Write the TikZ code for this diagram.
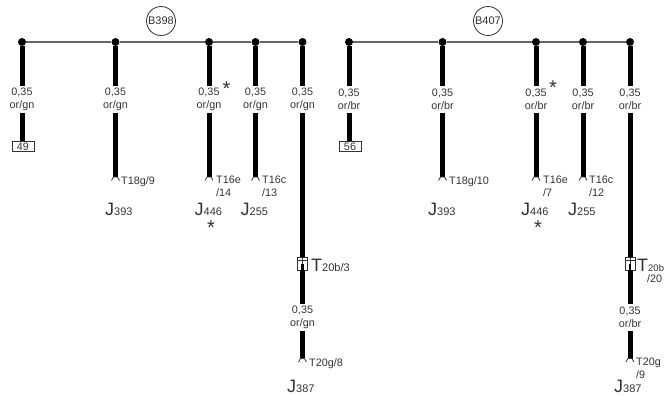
\documentclass[tikz,border=0pt]{standalone}
\usepackage{fontspec}
\setmainfont{Liberation Sans}
\definecolor{ink}{gray}{0.2}
\newcommand{\sm}{\fontsize{10.8}{12.7}\selectfont}
\newcommand{\bg}{\fontsize{18}{18}\selectfont}
\newcommand{\bgJ}[1]{{\bg J}{\fontsize{11}{12}\selectfont #1}}
\newcommand{\bgT}[1]{{\bg T}{\fontsize{11}{12}\selectfont #1}}
\tikzset{
  wire/.style={line width=5pt,black},
  bus/.style={line width=1.3pt,black!60},
  dotn/.style={circle,fill=black,inner sep=0pt,minimum size=8pt},
  gauge/.style={font=\sm,text=ink,align=center,inner sep=0pt,minimum height=26pt,minimum width=26pt},
  tag/.style={font=\sm,text=ink,anchor=west,inner sep=0pt,align=left},
  big/.style={text=ink,anchor=west,inner sep=0pt},
  bubble/.style={circle,draw=ink,line width=.8pt,font=\fontsize{11}{12}\selectfont,text=ink,inner sep=0pt,minimum size=29pt},
  pinbox/.style={draw=ink,line width=.8pt,fill=white,font=\sm,text=ink,inner sep=0pt,minimum width=22pt,minimum height=10.5pt},
  star/.style={font=\fontsize{20}{20}\selectfont,text=ink,inner sep=0pt},
  plug/.style={draw=ink,fill=white,line width=.8pt,inner sep=0pt,minimum width=10pt,minimum height=13pt},
  caret/.style={line width=.8pt,ink}
}
\begin{document}
\begin{tikzpicture}[x=1pt,y=-1pt]
\useasboundingbox (0,0) rectangle (664,396);
% ---- left group
\node[bubble] (b1) at (161,21) {B398};
\node[dotn] (a1) at (22,42) {};
\node[dotn] (a2) at (115.5,42) {};
\node[dotn] (a3) at (209,42) {};
\node[dotn] (a4) at (255.5,42) {};
\node[dotn] (a5) at (302.5,42) {};
\draw[bus] (a1) -- (a2) -- (a3) -- (a4) -- (a5);
\node[gauge] (g1) at (22,99.5) {0,35\\or/gn};
\node[gauge] (g2) at (115.5,99.5) {0,35\\or/gn};
\node[gauge] (g3) at (209,99.5) {0,35\\or/gn};
\node[gauge] (g4) at (255.5,99.5) {0,35\\or/gn};
\node[gauge] (g5) at (302.5,99.5) {0,35\\or/gn};
\node[gauge] (g6) at (302.5,317.5) {0,35\\or/gn};
\node[pinbox] (p1) at (23,146.5) {49};
\coordinate (e2) at (115.5,177);
\coordinate (e3) at (209,177);
\coordinate (e4) at (255.5,177);
\coordinate (e6) at (302.5,358.5);
\node[plug] (c1) at (302.5,263.5) {};
\foreach \s/\t in {a1/g1,a2/g2,a3/g3,a4/g4,a5/g5}
  \draw[wire] (\s) -- (\t.north);
\draw[wire] (g1.south) -- (g1.south |- p1.north);
\foreach \s/\t in {g2/e2,g3/e3,g4/e4}
  \draw[wire] (\s.south) -- (\t);
\draw[wire] (g5.south) -- (c1.north);
\draw[wire] (c1.south) -- (g6.north);
\draw[wire] (g6.south) -- (e6);
\foreach \e in {e2,e3,e4,e6}
  \draw[caret] (\e) ++(-4,3.5) -- ++(2,-3.5) -- ++(4,0) -- ++(2,3.5);
\draw[ink,line width=.7pt] (c1.west) ++(0,-3) -- ++(10,0) (c1.north) -- (c1.south);
\draw[line width=2.4pt] (c1.center) -- (c1.south);
\node[star] (s1) at (226.5,89) {*};
\node[star] (s2) at (211,228) {*};
\node[tag] (t1) at (121,181.5) {T18g/9};
\node[tag,text width=28pt] (t2) at (216,186) {T16e\\/14};
\node[tag,text width=28pt] (t3) at (262,186) {T16c\\/13};
\node[tag] (t4) at (309,363.5) {T20g/8};
\node[big] (j1) at (105,209) {\bgJ{393}};
\node[big] (j2) at (194.5,209) {\bgJ{446}};
\node[big] (j3) at (240.5,209) {\bgJ{255}};
\node[big] (j4) at (287,386) {\bgJ{387}};
\node[big] (k1) at (311,265) {\bgT{20b/3}};
% ---- right group
\node[bubble] (b2) at (488,21) {B407};
\node[dotn] (d1) at (349,42) {};
\node[dotn] (d2) at (442.5,42) {};
\node[dotn] (d3) at (536,42) {};
\node[dotn] (d4) at (583,42) {};
\node[dotn] (d5) at (630,42) {};
\draw[bus] (d1) -- (d2) -- (d3) -- (d4) -- (d5);
\node[gauge] (h1) at (349,99.5) {0,35\\or/br};
\node[gauge] (h2) at (442.5,99.5) {0,35\\or/br};
\node[gauge] (h3) at (536,99.5) {0,35\\or/br};
\node[gauge] (h4) at (583,99.5) {0,35\\or/br};
\node[gauge] (h5) at (630,99.5) {0,35\\or/br};
\node[gauge] (h6) at (630,317.5) {0,35\\or/br};
\node[pinbox] (p2) at (350,146.5) {56};
\coordinate (f2) at (442.5,177);
\coordinate (f3) at (536,177);
\coordinate (f4) at (583,177);
\coordinate (f6) at (630,358.5);
\node[plug] (c2) at (630,263.5) {};
\foreach \s/\t in {d1/h1,d2/h2,d3/h3,d4/h4,d5/h5}
  \draw[wire] (\s) -- (\t.north);
\draw[wire] (h1.south) -- (h1.south |- p2.north);
\foreach \s/\t in {h2/f2,h3/f3,h4/f4}
  \draw[wire] (\s.south) -- (\t);
\draw[wire] (h5.south) -- (c2.north);
\draw[wire] (c2.south) -- (h6.north);
\draw[wire] (h6.south) -- (f6);
\foreach \e in {f2,f3,f4,f6}
  \draw[caret] (\e) ++(-4,3.5) -- ++(2,-3.5) -- ++(4,0) -- ++(2,3.5);
\draw[ink,line width=.7pt] (c2.west) ++(0,-3) -- ++(10,0) (c2.north) -- (c2.south);
\draw[line width=2.4pt] (c2.center) -- (c2.south);
\node[star] (s3) at (553,88) {*};
\node[star] (s4) at (538,228) {*};
\node[tag] (u1) at (449,181.5) {T18g/10};
\node[tag,text width=28pt] (u2) at (543,186) {T16e\\/7};
\node[tag,text width=28pt] (u3) at (589,186) {T16c\\/12};
\node[tag,text width=28pt] (u4) at (636,368.5) {T20g\\/9};
\node[big] (m1) at (428,209) {\bgJ{393}};
\node[big] (m2) at (521,209) {\bgJ{446}};
\node[big] (m3) at (568,209) {\bgJ{255}};
\node[big] (m4) at (614,386) {\bgJ{387}};
\node[big] (n1) at (637,265) {{\bg T}{\fontsize{9.5}{10}\selectfont 20b}};
\node[tag] (n2) at (647,279) {/20};
\end{tikzpicture}
\end{document}
